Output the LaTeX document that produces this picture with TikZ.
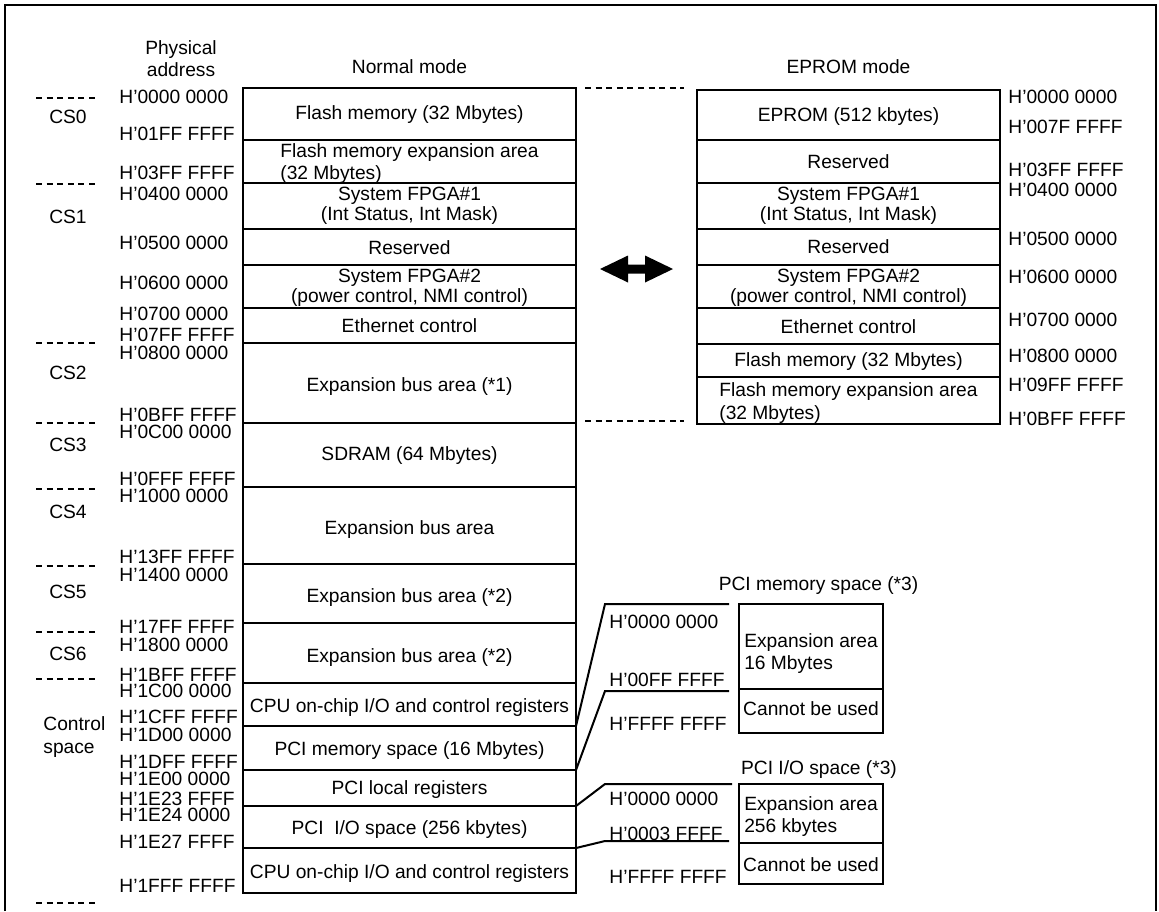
\documentclass[tikz,border=0pt]{standalone}
\usepackage{fontspec}
\setmainfont{Liberation Sans}
\usetikzlibrary{fit}
\begin{document}
\begin{tikzpicture}[x=0.5pt,y=-0.5pt,
  txt/.style={font=\fontsize{9.6}{10.5}\selectfont},
  box/.style={draw, line width=1pt, inner sep=0pt, outer sep=0pt},
  t1/.style={txt, inner sep=0pt, text height=6.9pt, text depth=0pt},
  tm/.style={txt, inner sep=0pt, align=center},
  tl/.style={txt, inner sep=0pt, align=left},
  addr/.style={t1, anchor=west},
  sep/.style={line width=1pt, dash pattern=on 3pt off 2.3pt},
  conn/.style={line width=1pt},
  frame/.style={line width=1pt}]
\useasboundingbox (0,0) rectangle (1159,911);
\draw[frame] (5,911) -- (5,5) -- (1156,5) -- (1156,911);

% headers
\node[tm, font=\fontsize{9.6}{11}\selectfont] (hpa) at (181,59) {Physical\\address};
\node[t1] (hnm) at (409.5,67) {Normal mode};
\node[t1] (hem) at (848.5,67) {EPROM mode};

% normal mode column
\node[box, fit={(243,88) (576,140)}] (n1) {};
\node[box, fit={(243,140) (576,183)}] (n2) {};
\node[box, fit={(243,183) (576,229)}] (n3) {};
\node[box, fit={(243,229) (576,265)}] (n4) {};
\node[box, fit={(243,265) (576,308)}] (n5) {};
\node[box, fit={(243,308) (576,343)}] (n6) {};
\node[box, fit={(243,343) (576,423)}] (n7) {};
\node[box, fit={(243,423) (576,487)}] (n8) {};
\node[box, fit={(243,487) (576,564)}] (n9) {};
\node[box, fit={(243,564) (576,623)}] (n10) {};
\node[box, fit={(243,623) (576,683)}] (n11) {};
\node[box, fit={(243,683) (576,726)}] (n12) {};
\node[box, fit={(243,726) (576,770)}] (n13) {};
\node[box, fit={(243,770) (576,806)}] (n14) {};
\node[box, fit={(243,806) (576,848)}] (n15) {};
\node[box, fit={(243,848) (576,893)}] (n16) {};

\node[t1] (n1t) at (409.5,113) {Flash memory (32 Mbytes)};
\node[tl, font=\fontsize{9.6}{10.75}\selectfont] (n2t) at (409.5,163.5) {Flash memory expansion area\\(32 Mbytes)};
\node[tm, font=\fontsize{9.6}{8.5}\selectfont] (n3t) at (409.5,205.5) {System FPGA\#1\\(Int Status, Int Mask)};
\node[t1] (n4t) at (409.5,247.5) {Reserved};
\node[tm, font=\fontsize{9.6}{10}\selectfont] (n5t) at (409.5,288) {System FPGA\#2\\(power control, NMI control)};
\node[t1] (n6t) at (409.5,325.5) {Ethernet control};
\node[t1] (n7t) at (409.5,385) {Expansion bus area (*1)};
\node[t1] (n8t) at (409.5,454) {SDRAM (64 Mbytes)};
\node[t1] (n9t) at (409.5,528) {Expansion bus area};
\node[t1] (n10t) at (409.5,596) {Expansion bus area (*2)};
\node[t1] (n11t) at (409.5,656) {Expansion bus area (*2)};
\node[t1] (n12t) at (409.5,706) {CPU on-chip I/O and control registers};
\node[t1] (n13t) at (409.5,749) {PCI memory space (16 Mbytes)};
\node[t1] (n14t) at (409.5,788) {PCI local registers};
\node[t1] (n15t) at (409.5,828) {PCI\ \ I/O space (256 kbytes)};
\node[t1] (n16t) at (409.5,872) {CPU on-chip I/O and control registers};

% EPROM mode column
\node[box, fit={(697,90) (1000,140)}] (e1) {};
\node[box, fit={(697,140) (1000,183)}] (e2) {};
\node[box, fit={(697,183) (1000,229)}] (e3) {};
\node[box, fit={(697,229) (1000,265)}] (e4) {};
\node[box, fit={(697,265) (1000,308)}] (e5) {};
\node[box, fit={(697,308) (1000,344)}] (e6) {};
\node[box, fit={(697,344) (1000,377)}] (e7) {};
\node[box, fit={(697,377) (1000,424)}] (e8) {};

\node[t1] (e1t) at (848.5,115) {EPROM (512 kbytes)};
\node[t1] (e2t) at (848.5,162) {Reserved};
\node[tm, font=\fontsize{9.6}{8.5}\selectfont] (e3t) at (848.5,205.5) {System FPGA\#1\\(Int Status, Int Mask)};
\node[t1] (e4t) at (848.5,247) {Reserved};
\node[tm, font=\fontsize{9.6}{10}\selectfont] (e5t) at (848.5,288) {System FPGA\#2\\(power control, NMI control)};
\node[t1] (e6t) at (848.5,327) {Ethernet control};
\node[t1] (e7t) at (848.5,360) {Flash memory (32 Mbytes)};
\node[tl, font=\fontsize{9.6}{11.5}\selectfont] (e8t) at (848.5,403) {Flash memory expansion area\\(32 Mbytes)};

% left address labels
\foreach \y/\t [count=\i] in {96.7/H’0000 0000, 133.3/H’01FF FFFF, 172.7/H’03FF FFFF,
  193.3/H’0400 0000, 242.7/H’0500 0000, 282.7/H’0600 0000, 313.3/H’0700 0000,
  335/H’07FF FFFF, 352.7/H’0800 0000, 414.3/H’0BFF FFFF, 431.7/H’0C00 0000,
  478.3/H’0FFF FFFF, 496/H’1000 0000, 556.7/H’13FF FFFF, 574.3/H’1400 0000,
  626.7/H’17FF FFFF, 644.3/H’1800 0000, 675/H’1BFF FFFF, 691/H’1C00 0000,
  716.7/H’1CFF FFFF, 734.3/H’1D00 0000, 761.7/H’1DFF FFFF, 778.3/H’1E00 0000,
  798.3/H’1E23 FFFF, 815/H’1E24 0000, 841.7/H’1E27 FFFF, 885.5/H’1FFF FFFF}
  {\node[addr] (a\i) at (119,\y) {\t};}

% right address labels
\foreach \y/\t [count=\i] in {97/H’0000 0000, 127/H’007F FFFF, 170/H’03FF FFFF,
  190/H’0400 0000, 239/H’0500 0000, 277/H’0600 0000, 320/H’0700 0000,
  355.5/H’0800 0000, 385/H’09FF FFFF, 418.5/H’0BFF FFFF}
  {\node[addr] (b\i) at (1008,\y) {\t};}

% chip select labels
\foreach \y/\t [count=\i] in {117/CS0, 217/CS1, 373/CS2, 445/CS3, 512/CS4, 592/CS5, 654/CS6}
  {\node[t1] (cs\i) at (68,\y) {\t};}
\node[tl, font=\fontsize{9.6}{11.25}\selectfont, anchor=west] (ctl) at (43,737) {Control\\space};

% separators
\foreach \y [count=\i] in {98,184,343,423,489,566,632,679,903}
  {\draw[sep] (36,\y) -- (95,\y);}
\draw[sep] (585,88) -- (684,88);
\draw[sep] (585,421) -- (684,421);

% double arrow
\fill (600,269) -- (628,255.5) -- (628,264.5) -- (645,264.5) -- (645,255.5)
  -- (673,269) -- (645,282.5) -- (645,273.5) -- (628,273.5) -- (628,282.5) -- cycle;

% PCI memory space
\node[t1] (pmh) at (818.5,584) {PCI memory space (*3)};
\node[box, fit={(739,604) (883,689)}] (pm1) {};
\node[box, fit={(739,689) (883,733)}] (pm2) {};
\node[tl, font=\fontsize{9.6}{10.8}\selectfont] (pm1t) at (811,653.5) {Expansion area\\16 Mbytes};
\node[t1] (pm2t) at (811,709) {Cannot be used};

% PCI I/O space
\node[t1] (pih) at (819,768) {PCI I/O space (*3)};
\node[box, fit={(739,784) (883,843)}] (pi1) {};
\node[box, fit={(739,843) (883,884)}] (pi2) {};
\node[tl, font=\fontsize{9.6}{11.3}\selectfont] (pi1t) at (811,816.5) {Expansion area\\256 kbytes};
\node[t1] (pi2t) at (811,865) {Cannot be used};

% connector labels
\node[addr] (m1) at (609,621.7) {H’0000 0000};
\node[addr] (m2) at (609,679.3) {H’00FF FFFF};
\node[addr] (m3) at (609,723.3) {H’FFFF FFFF};
\node[addr] (m4) at (609,798.3) {H’0000 0000};
\node[addr] (m5) at (609,834) {H’0003 FFFF};
\node[addr] (m6) at (609,876.7) {H’FFFF FFFF};

% connectors
\coordinate (q1) at (605,604); \coordinate (p1) at (729,604);
\coordinate (q2) at (605,691); \coordinate (p2) at (729,691);
\coordinate (q3) at (605,784); \coordinate (p3) at (732,784);
\coordinate (q4) at (605,841); \coordinate (p4) at (729,841);
\draw[conn] (n12.south east) -- (q1) -- (p1);
\draw[conn] (n13.south east) -- (q2) -- (p2);
\draw[conn] (n14.south east) -- (q3) -- (p3);
\draw[conn] (n15.south east) -- (q4) -- (p4);
\end{tikzpicture}
\end{document}
